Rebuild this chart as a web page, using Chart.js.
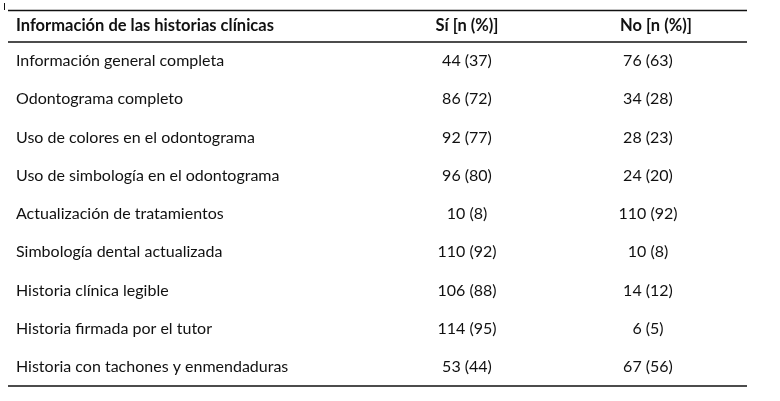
<!DOCTYPE html>
<html>
<head>
<meta charset="utf-8">
<script src="https://cdn.jsdelivr.net/npm/chart.js@4"></script>
<style>
  html, body { margin: 0; padding: 0; background: #fff; }
  #wrap { width: 780px; height: 401px; }
</style>
</head>
<body>
<div id="wrap"><canvas id="tabla"></canvas></div>
<script>
const headers = ['Información de las historias clínicas', 'Sí [n (%)]', 'No [n (%)]'];
const rows = [
    'Información general completa',
    'Odontograma completo',
    'Uso de colores en el odontograma',
    'Uso de simbología en el odontograma',
    'Actualización de tratamientos',
    'Simbología dental actualizada',
    'Historia clínica legible',
    'Historia firmada por el tutor',
    'Historia con tachones y enmendaduras'
];
const siN = [44, 86, 92, 96, 10, 110, 106, 114, 53];
const siPct = [37, 72, 77, 80, 8, 92, 88, 95, 44];
const noN = [76, 34, 28, 24, 110, 10, 14, 6, 67];
const noPct = [63, 28, 23, 20, 92, 8, 12, 5, 56];

const FONT = 'Lato, "Open Sans", sans-serif';
const INK = '#111';

// draws the table cells on the category axis positions
const tablePlugin = {
    id: 'tablePlugin',
    afterDraw(chart) {
        const ctx = chart.ctx;
        const area = chart.chartArea;
        const y = chart.scales.y;
        const colSi = 467, colNo = 648, colNoHead = 656;

        ctx.save();
        ctx.strokeStyle = INK;
        ctx.lineWidth = 1.3;
        [10.5, area.top, area.bottom].forEach(py => {
            ctx.beginPath();
            ctx.moveTo(area.left, py);
            ctx.lineTo(area.right, py);
            ctx.stroke();
        });
        // small stray mark at the top left
        ctx.lineWidth = 1;
        ctx.beginPath();
        ctx.moveTo(4.5, 3);
        ctx.lineTo(4.5, 10);
        ctx.stroke();

        ctx.fillStyle = INK;
        ctx.textBaseline = 'middle';

        // header
        ctx.font = 'bold 16.5px ' + FONT;
        ctx.textAlign = 'left';
        ctx.fillText(headers[0], 16, 26);
        ctx.textAlign = 'center';
        ctx.fillText(headers[1], colSi, 26);
        ctx.fillText(headers[2], colNoHead, 26);

        // body
        ctx.font = '16px ' + FONT;
        for (let i = 0; i < rows.length; i++) {
            let py = y.getPixelForValue(i);
            ctx.textAlign = 'left';
            ctx.fillText(rows[i], 16, py);
            ctx.textAlign = 'center';
            ctx.fillText(`${siN[i]} (${siPct[i]})`, colSi, py);
            ctx.fillText(`${noN[i]} (${noPct[i]})`, colNo, py);
        }
        ctx.restore();
    }
};

new Chart(document.getElementById('tabla'), {
    type: 'bar',
    data: {
        labels: rows,
        datasets: [
            { label: 'Sí', data: siN, backgroundColor: 'rgba(0,0,0,0)' },
            { label: 'No', data: noN, backgroundColor: 'rgba(0,0,0,0)' }
        ]
    },
    options: {
        indexAxis: 'y',
        responsive: true,
        maintainAspectRatio: false,
        animation: false,
        layout: { padding: { top: 42, bottom: 15, left: 8, right: 33 } },
        scales: {
            x: { display: false, min: 0, max: 120 },
            y: { display: false }
        },
        plugins: {
            legend: { display: false },
            tooltip: { enabled: false }
        }
    },
    plugins: [tablePlugin]
});
</script>
</body>
</html>
